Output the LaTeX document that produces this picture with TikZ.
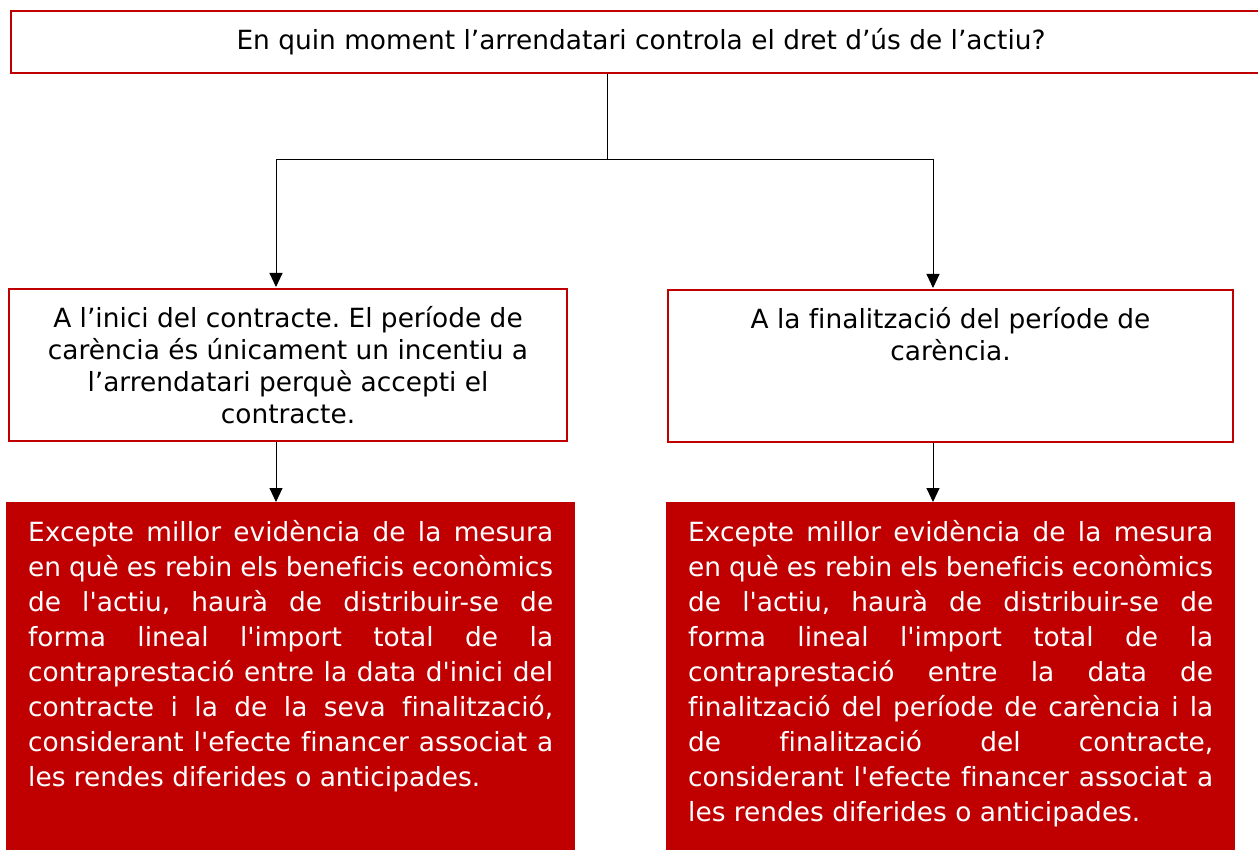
\documentclass[tikz,border=0pt]{standalone}
\usepackage{fontspec}
\setmainfont{DejaVu Sans}[Ligatures={TeXOff, NoCommon}]
\usepackage{tikz}
\usetikzlibrary{arrows.meta, positioning, calc}
\definecolor{darkred}{HTML}{C00000}
\tolerance=10000
\hbadness=10000
\frenchspacing

\begin{document}
\begin{tikzpicture}[
    x=1pt, y=-1pt,
    every node/.style={font=\fontsize{26.4}{32}\selectfont},
    box/.style={rectangle, draw=darkred, line width=2pt, fill=white, align=center},
    qbox/.style={box, minimum width=1260pt, minimum height=62pt, anchor=north west},
    ansbox/.style={box, minimum width=558pt, minimum height=152pt, anchor=north west},
    notebox/.style={rectangle, fill=darkred, text=white, anchor=north west,
                    text width=525pt, inner xsep=22pt, inner ysep=18pt, align=justify,
                    font=\fontsize{26.4}{35}\selectfont},
    arr/.style={-{Triangle[length=14pt, width=13pt]}, line width=1pt},
]
    \useasboundingbox (0,0) rectangle (1258,850);

    % Question
    \node[qbox] (question) at (10,10) {En quin moment l’arrendatari controla el dret d’ús de l’actiu?};

    % Answers
    \node[ansbox] (inici) at (8,288) {A l’inici del contracte. El període de\\carència és únicament un incentiu a\\l’arrendatari perquè accepti el\\contracte.};
    \node[ansbox, minimum width=565pt] (final) at (667,289) {A la finalització del període de\\carència.\\\strut\\\mbox{}};

    % Notes
    \node[notebox] (notainici) at (6,502) {Excepte millor evidència de la mesura\linebreak
        en què es rebin els beneficis econòmics\linebreak
        de l'actiu, haurà de distribuir-se de\linebreak
        forma lineal l'import total de la\linebreak
        contraprestació entre la data d'inici del\linebreak
        contracte i la de la seva finalització,\linebreak
        considerant l'efecte financer associat a\linebreak
        les rendes diferides o anticipades.\par\rule{0pt}{100pt}};
    \node[notebox] (notafinal) at (666,502) {Excepte millor evidència de la mesura\linebreak
        en què es rebin els beneficis econòmics\linebreak
        de l'actiu, haurà de distribuir-se de\linebreak
        forma lineal l'import total de la\linebreak
        contraprestació entre la data de\linebreak
        finalització del període de carència i la\linebreak
        de finalització del contracte,\linebreak
        considerant l'efecte financer associat a\linebreak
        les rendes diferides o anticipades.\par\rule{0pt}{100pt}};

    % Arrows
    \coordinate (split) at (607,160);
    \draw[line width=1pt] (question.south -| split) -- (split);
    \draw[arr, shorten >=1pt] (split) -| ([xshift=-12pt]inici.north);
    \draw[arr, shorten >=1pt] (split) -| ([xshift=-17.5pt]final.north);
    \draw[arr] ([xshift=-12pt]inici.south) -- ([xshift=-12pt]inici.south |- notainici.north);
    \draw[arr] ([xshift=-17.5pt]final.south) -- ([xshift=-17.5pt]final.south |- notafinal.north);

\end{tikzpicture}
\end{document}
